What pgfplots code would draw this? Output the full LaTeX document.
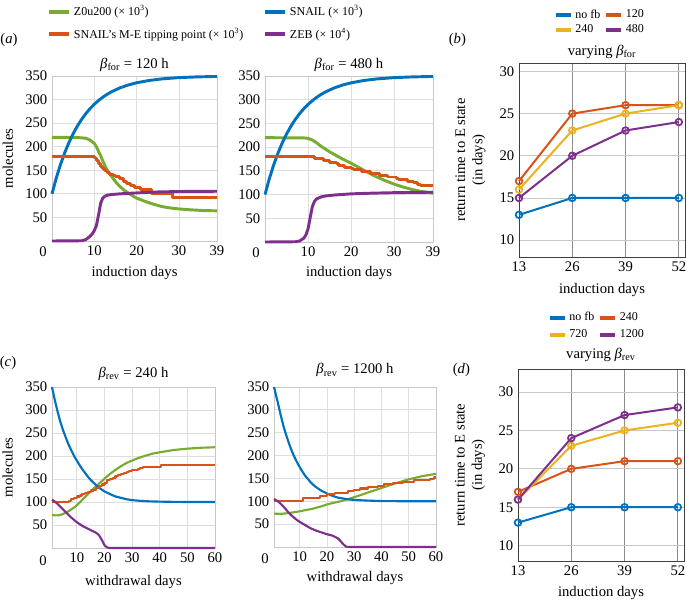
\documentclass[border=0pt]{standalone}
\usepackage{fontspec}
\setmainfont{Liberation Serif}
\usepackage{pgfplots}
\pgfplotsset{compat=1.18}
\definecolor{mblue}{HTML}{0072BD}
\definecolor{morange}{HTML}{D95319}
\definecolor{myellow}{HTML}{EDB120}
\definecolor{mpurple}{HTML}{7E2F8E}
\definecolor{mgreen}{HTML}{77AC30}
\newcommand\fsL{\fontsize{11}{13}\selectfont}
\newcommand\fsS{\fontsize{9}{10.5}\selectfont}
\pgfplotsset{
 base/.style={scale only axis, anchor=north west,
   /pgf/number format/assume math mode=true,
   tick label style={font=\fsL}, label style={font=\fsL}, title style={font=\fsL, anchor=center},
   major tick length=0pt, grid=major, clip=false},
 molax/.style={base, ymin=0, ymax=350, ytick={50,100,...,350},
   axis line style={draw=black!22},
   major grid style={draw=black!13, line width=0.6pt},
   every axis plot/.append style={line width=2.2pt, line join=round},
   legend image code/.code={\draw[##1, line width=3pt] (0pt,0pt) -- (15pt,0pt);}},
 retax/.style={base, xmin=13, xmax=53.5, ytick={10,15,...,30}, xtick={13,26,39,52},
   axis line style={draw=black!75},
   major x grid style={draw=black!45, line width=0.6pt},
   major y grid style={draw=black!22, line width=0.6pt},
   every axis plot/.append style={line width=1.5pt, mark=o, mark size=2.5pt, mark options={line width=1.3pt}},
   legend columns=2,
   legend image code/.code={\draw[##1, line width=3pt] (0pt,0pt) -- (11pt,0pt);},
   legend style={draw=none, fill=none, font=\fsS, inner sep=0pt, cells={anchor=west},
     /tikz/every even column/.append style={column sep=1pt}},
   xlabel={induction days},
   ylabel={return time to E state\\(in days)}, ylabel style={align=center}},
}
\begin{document}
\begin{tikzpicture}
\useasboundingbox (0,0) rectangle (515.25pt,-452.25pt);
% ---------------- (a) left
\begin{axis}[molax, at={(39pt,-57pt)}, width=123.75pt, height=123.75pt,
  xmin=0, xmax=39, xtick={10,20,30,39},
  xlabel={induction days}, ylabel={molecules},
  xlabel style={at={(axis description cs:0.5,-0.194)}, anchor=center},
  ylabel style={at={(axis description cs:-0.267,0.5)}, anchor=center},
  title={\textit{β}\textsubscript{for} = 120 h}, title style={at={(axis description cs:0.5,1.018)}},
  legend columns=2,
  legend style={at={(axis description cs:-0.03,1.445)}, anchor=north west, draw=none, fill=none,
    font=\fsS, inner sep=0pt, cells={anchor=west}, row sep=3.5pt,
    /tikz/every even column/.append style={column sep=13pt}}]
\addplot[mgreen] coordinates {(0,220) (6,219.5) (8,218) (9,214) (10,207) (10.5,200) (11,190) (11.5,181) (12,170) (12.5,160) (13,151) (14,138) (15,126) (16,116) (17,108) (18,102) (19,96) (20,91) (22,84) (24,78) (26,73) (28,70) (30,68) (33,66) (36,64.5) (39,64)};
\addlegendentry{Z0u200 (× 10\textsuperscript{3})}
\addplot[mblue] coordinates {(0,100) (1,133.3) (2,162.1) (3,187.1) (4,208.8) (5,227.6) (6,243.9) (7,258.0) (8,270.3) (9,280.9) (10,290.1) (11,298.0) (12,305.0) (13,311.0) (14,316.2) (16,324.6) (18,330.9) (20,335.6) (23,340.6) (26,343.9) (30,346.6) (34,348.0) (39,349.1)};
\addlegendentry{SNAIL (× 10\textsuperscript{3})}
\addplot[morange, const plot] coordinates {(0,180) (10,176) (10.5,170) (11,164) (11.5,158) (12,154) (12.5,150) (13,146) (13.5,142) (14.5,139) (15,136) (16,132) (17,127) (17.5,122) (18.5,117) (19.5,113) (21,109) (23.5,100) (28.5,92) (39,92)};
\addlegendentry{SNAIL's M-E tipping point (× 10\textsuperscript{3})}
\addplot[mpurple] coordinates {(0,0) (7,0.5) (8,3) (9,10) (9.5,15) (10,22) (10.5,33) (11,55) (11.5,80) (12,91) (12.5,95) (13,97) (14,98.5) (16,100) (20,102) (25,104) (30,105) (39,105.5)};
\addlegendentry{ZEB (× 10\textsuperscript{4})}
\node[font=\fsL] at (rel axis cs:0,0) [xshift=-6.75pt, yshift=-8.25pt] {0};
\end{axis}
% ---------------- (a) right
\begin{axis}[molax, at={(198.75pt,-57pt)}, width=126pt, height=124.5pt,
  xmin=0, xmax=39, xtick={10,20,30,39},
  xlabel={induction days},
  xlabel style={at={(axis description cs:0.5,-0.187)}, anchor=center},
  title={\textit{β}\textsubscript{for} = 480 h}, title style={at={(axis description cs:0.5,1.018)}}]
\addplot[mgreen] coordinates {(0,220) (9,219.5) (10,218.5) (11,215) (12,209) (13,202) (14,196) (15,190) (16,185) (17,180) (18,175) (20,166) (22,156) (24,146) (26,137) (28,129) (30,122) (32,116) (34,111) (36,107) (39,103)};
\addplot[mblue] coordinates {(0,100) (1,133.3) (2,162.1) (3,187.1) (4,208.8) (5,227.6) (6,243.9) (7,258.0) (8,270.3) (9,280.9) (10,290.1) (11,298.0) (12,305.0) (13,311.0) (14,316.2) (16,324.6) (18,330.9) (20,335.6) (23,340.6) (26,343.9) (30,346.6) (34,348.0) (39,349.1)};
\addplot[morange, const plot] coordinates {(0,180) (11.5,176) (13.5,172) (15,168) (16.5,165) (17,162) (18.5,157) (20,154) (20.5,152) (22.5,148) (24.5,145) (26.5,141) (28.5,137) (30.5,134) (31,131) (33,128) (34.5,126) (35.5,122) (36,120) (39,120)};
\addplot[mpurple] coordinates {(0,0) (7,0.5) (8,2) (9,8) (9.5,15) (10,28) (10.5,52) (11,75) (11.5,86) (12,91) (13,95) (14,97) (16,99) (20,101.5) (25,103) (30,104) (39,105)};
\node[font=\fsL] at (rel axis cs:0,0) [xshift=-6.75pt, yshift=-8.25pt] {0};
\end{axis}
% ---------------- (b)
\begin{axis}[retax, at={(389.25pt,-47.25pt)}, width=124.5pt, height=145.5pt,
  ymin=8, ymax=31,
  xlabel style={at={(axis description cs:0.5,-0.170)}, anchor=center},
  ylabel style={at={(axis description cs:-0.292,0.5)}, anchor=center},
  title={varying \textit{β}\textsubscript{for}}, title style={at={(axis description cs:0.5,1.015)}},
  legend style={at={(axis description cs:0.21,1.29)}, anchor=north west, row sep=-0.5pt}]
\addplot[mblue] coordinates {(13,13) (26,15) (39,15) (52,15)};
\addlegendentry{no fb}
\addplot[morange] coordinates {(13,17) (26,25) (39,26) (52,26)};
\addlegendentry{120}
\addplot[myellow] coordinates {(13,16) (26,23) (39,25) (52,26)};
\addlegendentry{240}
\addplot[mpurple] coordinates {(13,15) (26,20) (39,23) (52,24)};
\addlegendentry{480}
\end{axis}
% ---------------- (c) left
\begin{axis}[molax, at={(39pt,-290.25pt)}, width=122.25pt, height=120.75pt,
  every axis plot/.append style={line width=1.6pt},
  xmin=1, xmax=60, xtick={10,20,...,60},
  xlabel={withdrawal days}, ylabel={molecules},
  xlabel style={at={(axis description cs:0.5,-0.209)}, anchor=center},
  ylabel style={at={(axis description cs:-0.273,0.5)}, anchor=center},
  title={\textit{β}\textsubscript{rev} = 240 h}, title style={at={(axis description cs:0.5,1.031)}}]
\addplot[mgreen] coordinates {(1,72) (2,71) (3,71) (4,72) (5,74) (6,77) (7,80) (8,84) (9,88) (10,93) (11,99) (12,105) (13,111) (14,117) (15,123) (16,129) (17,134) (18,140) (19,145) (20,151) (22,161) (24,170) (26,178) (28,185) (30,190) (32,195) (35,201) (38,206) (40,208) (45,213) (50,216) (55,218) (60,219)};
\addplot[mblue] coordinates {(1,350) (2,322) (3,297) (4,275) (5,256) (6,240) (7,225) (8,212) (9,200) (10,190) (11,180) (12,171) (13,163) (14,155) (15,148) (16,142) (17,136) (18,131) (19,127) (20,123) (22,117) (24,112) (26,109) (28,106) (30,104) (33,102.5) (36,101.5) (40,100.8) (45,100.3) (50,100) (60,100)};
\addplot[morange, const plot] coordinates {(1,100) (7,103) (8,106) (9,109) (10,112) (11,114) (12,117) (13,120) (14,122) (15,125) (16,127) (17,130) (18,134) (19,138) (20,142) (21,147) (22,150) (23,153) (24,156) (25,159) (26,161) (27,163) (28,165) (29,167) (30,170) (32,171) (33,174) (34,176) (40.5,180) (60,180)};
\addplot[mpurple] coordinates {(1,105) (2,101) (3,96) (4,90) (5,84) (6,78) (7,72) (8,66) (9,61) (10,56) (11,52) (12,48) (13,45) (14,42) (15,39) (16,36) (17,33) (18,28) (19,18) (20,6) (21,1) (22,0) (60,0)};
\node[font=\fsL] at (rel axis cs:0,0) [xshift=-6.75pt, yshift=-9.75pt] {0};
\end{axis}
% ---------------- (c) right
\begin{axis}[molax, at={(205.5pt,-290.25pt)}, width=121.5pt, height=120pt,
  every axis plot/.append style={line width=1.6pt},
  xmin=0.6, xmax=60, xtick={10,20,...,60},
  xlabel={withdrawal days},
  xlabel style={at={(axis description cs:0.5,-0.194)}, anchor=center},
  title={\textit{β}\textsubscript{rev} = 1200 h}, title style={at={(axis description cs:0.5,1.054)}}]
\addplot[mgreen] coordinates {(0.6,73) (3,72.5) (5,73.5) (8,76) (10,78) (12,80.5) (15,84) (18,89) (20,93) (22,96) (25,100) (29,107) (32,113) (35,119) (40,129) (45,139) (50,148) (55,155) (60,160)};
\addplot[mblue] coordinates {(0.6,350) (2,316) (3,290) (4,266) (5,246) (6,228) (7,212) (8,198) (9,186) (10,175) (11,165) (12,156) (13,149) (14,142) (15,136) (16,131) (18,123) (20,117) (22,112) (24,108) (26,106) (28,104) (30,103) (35,101.5) (40,100.5) (50,100) (60,100)};
\addplot[morange, const plot] coordinates {(0.6,100) (11.3,107) (17.4,112) (20,115) (23,118) (27.8,122) (30,125) (32,128) (35,131) (38.8,134) (41,137) (44.3,140) (48,143) (52,146) (57.9,148) (59.3,152) (60,152)};
\addplot[mpurple] coordinates {(0.6,105) (2,100) (3,95) (4,89) (5,82) (6,75) (7,69) (8,64) (9,59) (10,55) (12,48) (14,41) (16,36) (18,32) (20,28) (22,25) (23,22) (24,19) (25,13) (26,6) (27,1) (28,0) (60,0)};
\node[font=\fsL] at (rel axis cs:0,0) [xshift=-6.75pt, yshift=-9pt] {0};
\end{axis}
% ---------------- (d)
\begin{axis}[retax, at={(388.5pt,-276.75pt)}, width=124.5pt, height=144pt,
  ymin=8, ymax=33,
  xlabel style={at={(axis description cs:0.5,-0.167)}, anchor=center},
  ylabel style={at={(axis description cs:-0.289,0.5)}, anchor=center},
  title={varying \textit{β}\textsubscript{rev}}, title style={at={(axis description cs:0.5,1.031)}},
  legend style={at={(axis description cs:0.18,1.31)}, anchor=north west, row sep=1pt}]
\addplot[mblue] coordinates {(13,13) (26,15) (39,15) (52,15)};
\addlegendentry{no fb}
\addplot[morange] coordinates {(13,17) (26,20) (39,21) (52,21)};
\addlegendentry{240}
\addplot[myellow] coordinates {(13,16) (26,23) (39,25) (52,26)};
\addlegendentry{720}
\addplot[mpurple] coordinates {(13,16) (26,24) (39,27) (52,28)};
\addlegendentry{1200}
\end{axis}
% panel labels
\node[font=\fsL] at (6.75pt,-30pt) {(\textit{a})};
\node[font=\fsL] at (343pt,-30pt) {(\textit{b})};
\node[font=\fsL] at (6pt,-272.25pt) {(\textit{c})};
\node[font=\fsL] at (346pt,-277.5pt) {(\textit{d})};
\end{tikzpicture}
\end{document}
